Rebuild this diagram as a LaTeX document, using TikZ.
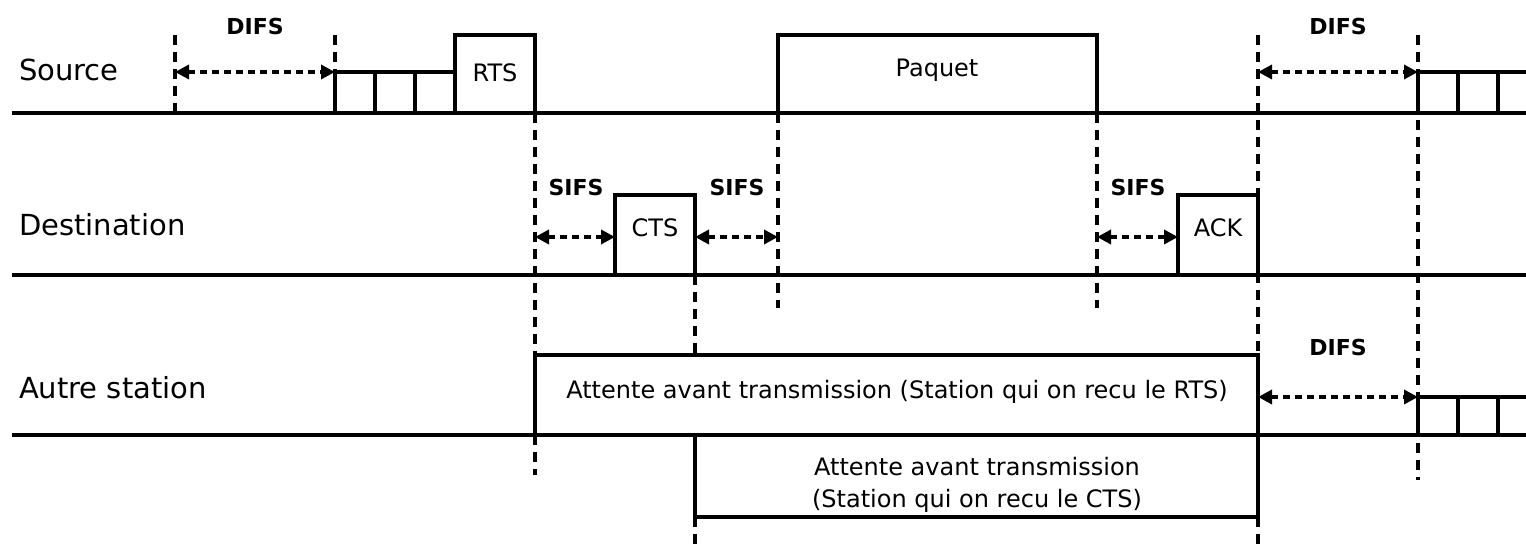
\documentclass[tikz,border=0pt]{standalone}
\usepackage{fontspec}
\setmainfont{DejaVu Sans}
\usetikzlibrary{arrows.meta}

\begin{document}
\begin{tikzpicture}[x=0.5pt, y=-0.5pt,
    sig/.style={line width=1.9pt},
    guide/.style={line width=1.7pt, dash pattern=on 5pt off 3.5pt},
    span/.style={line width=1.7pt, dash pattern=on 3.5pt off 2.5pt,
        {Triangle[length=7pt,width=7pt]}-{Triangle[length=7pt,width=7pt]}},
    lbl/.style={font=\fontsize{12}{16}\selectfont},
    ifs/.style={font=\bfseries\fontsize{11}{13}\selectfont},
    who/.style={font=\fontsize{14.5}{17}\selectfont, anchor=west}]
    \useasboundingbox (0,0) rectangle (1526,549);

    % dashed time marks
    \draw[guide] (175,35) -- (175,113);
    \draw[guide] (335,35) -- (335,72);
    \draw[guide] (535,113) -- (535,355);
    \draw[guide] (535,435) -- (535,475);
    \draw[guide] (695,275) -- (695,355);
    \draw[guide] (695,517) -- (695,549);
    \draw[guide] (778,113) -- (778,308);
    \draw[guide] (1097,113) -- (1097,308);
    \draw[guide] (1258,35) -- (1258,355);
    \draw[guide] (1258,517) -- (1258,549);
    \draw[guide] (1418,35) -- (1418,480);

    % the three stations
    \draw[sig] (12,113) -- (1526,113);
    \draw[sig] (12,275) -- (1526,275);
    \draw[sig] (12,435) -- (1526,435);
    \node[who] (src) at (12,70) {Source};
    \node[who] (dst) at (12,225) {Destination};
    \node[who] (oth) at (12,388) {Autre station};

    % source: backoff, RTS, packet, backoff
    \draw[sig] (335,113) -- (335,72) -- (455,72);
    \foreach \x in {375,415} \draw[sig] (\x,72) -- (\x,113);
    \draw[sig] (455,113) rectangle (535,35);
    \node[lbl] (rts) at (495,73) {RTS};
    \draw[sig] (778,113) rectangle (1097,35);
    \node[lbl] (pkt) at (937,70) {Paquet};
    \draw[sig] (1418,113) -- (1418,72) -- (1526,72);
    \foreach \x in {1458,1498} \draw[sig] (\x,72) -- (\x,113);

    % destination: CTS and ACK
    \draw[sig] (615,275) rectangle (695,195);
    \node[lbl] (cts) at (655,228) {CTS};
    \draw[sig] (1178,275) rectangle (1258,195);
    \node[lbl] (ack) at (1218,228) {ACK};

    % other stations
    \draw[sig] (535,435) rectangle (1258,355);
    \node[lbl] (navrts) at (897,392) {Attente avant transmission (Station qui on recu le RTS)};
    \draw[sig] (695,435) rectangle (1258,517);
    \node[lbl, align=center] (navcts) at (977,485) {Attente avant transmission\\(Station qui on recu le CTS)};
    \draw[sig] (1418,435) -- (1418,397) -- (1526,397);
    \foreach \x in {1458,1498} \draw[sig] (\x,397) -- (\x,435);

    % inter frame spaces
    \coordinate (d1a) at (175,72);   \coordinate (d1b) at (335,72);
    \coordinate (s1a) at (535,237);  \coordinate (s1b) at (615,237);
    \coordinate (s2a) at (695,237);  \coordinate (s2b) at (778,237);
    \coordinate (s3a) at (1097,237); \coordinate (s3b) at (1178,237);
    \coordinate (d2a) at (1258,72);  \coordinate (d2b) at (1418,72);
    \coordinate (d3a) at (1258,397); \coordinate (d3b) at (1418,397);
    \draw[span] (d1a) -- (d1b);
    \draw[span] (s1a) -- (s1b);
    \draw[span] (s2a) -- (s2b);
    \draw[span] (s3a) -- (s3b);
    \draw[span] (d2a) -- (d2b);
    \draw[span] (d3a) -- (d3b);
    \node[ifs] (difs1) at (255,26) {DIFS};
    \node[ifs] (difs2) at (1338,26) {DIFS};
    \node[ifs] (difs3) at (1338,347) {DIFS};
    \node[ifs] (sifs1) at (576,187) {SIFS};
    \node[ifs] (sifs2) at (737,187) {SIFS};
    \node[ifs] (sifs3) at (1138,187) {SIFS};
\end{tikzpicture}
\end{document}
